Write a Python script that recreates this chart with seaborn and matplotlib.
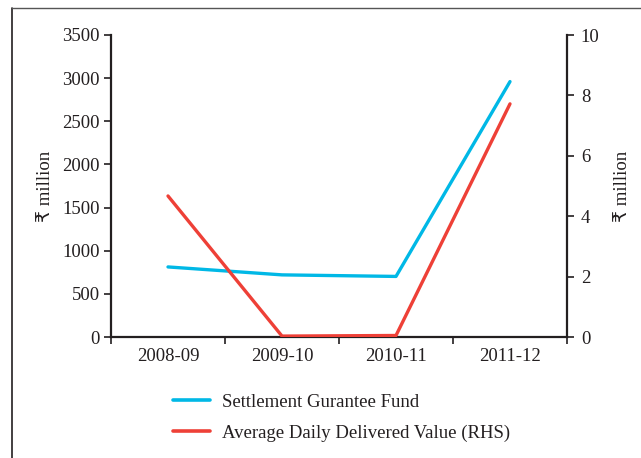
import numpy as np
import pandas as pd
import matplotlib
matplotlib.use("Agg")
import matplotlib.pyplot as plt
from matplotlib.lines import Line2D
import seaborn as sns

# Data
years = ["2008-09", "2009-10", "2010-11", "2011-12"]
settlement_fund = [812, 720, 702, 2960]          # ₹ million, left axis
avg_daily_delivered = [4.67, 0.03, 0.05, 7.72]   # ₹ million, right axis

left_ticks = [0, 500, 1000, 1500, 2000, 2500, 3000, 3500]
right_ticks = [0, 2, 4, 6, 8, 10]

BLUE = "#00b8e6"
RED = "#ee4037"
INK = "#231f20"

sns.set_theme(style="white")
plt.rcParams["font.family"] = ["Liberation Serif", "DejaVu Sans"]
plt.rcParams["text.color"] = INK
plt.rcParams["axes.labelcolor"] = INK
plt.rcParams["xtick.color"] = INK
plt.rcParams["ytick.color"] = INK

df = pd.DataFrame({
    "pos": np.arange(len(years)),
    "year": years,
    "fund": settlement_fund,
    "delivered": avg_daily_delivered,
})

fig = plt.figure(figsize=(6.41, 4.58), dpi=100)
ax = fig.add_axes([111 / 641, 121 / 458, 456 / 641, 302 / 458])
ax2 = ax.twinx()

sns.lineplot(data=df, x="pos", y="fund", ax=ax, color=BLUE, lw=2.4,
             sort=False, label="Settlement Gurantee Fund", legend=False)
sns.lineplot(data=df, x="pos", y="delivered", ax=ax2, color=RED, lw=2.4,
             sort=False, label="Average Daily Delivered Value (RHS)", legend=False)

fs = 13.5
ax.set_xlim(-0.5, len(years) - 0.5)
ax.set_ylim(0, 3500)
ax2.set_ylim(0, 10)
ax.set_yticks(left_ticks)
ax.set_yticklabels([str(t) for t in left_ticks], fontsize=fs)
ax2.set_yticks(right_ticks)
ax2.set_yticklabels([str(t) for t in right_ticks], fontsize=fs)

# category boundaries as tick marks, labels centred in each slot
ax.set_xticks(np.arange(-0.5, len(years), 1.0))
ax.set_xticklabels([])
ax.set_xticks(df["pos"], minor=True)
ax.set_xticklabels(years, minor=True, fontsize=fs)
ax.tick_params(axis="x", which="major", direction="out", length=5, width=1.2, color=INK, bottom=True)
ax.tick_params(axis="x", which="minor", length=0, pad=8)
ax.tick_params(axis="y", direction="out", length=5, width=1.2, color=INK, left=True, pad=3)
ax2.tick_params(axis="y", direction="out", length=5, width=1.2, color=INK, right=True, pad=5)

ax.set_xlabel("")
ax.set_ylabel("₹ million", fontsize=fs, labelpad=6)
ax2.set_ylabel("₹ million", fontsize=fs, labelpad=10)

for a in (ax, ax2):
    a.spines["top"].set_visible(False)
    for side in ("left", "right", "bottom"):
        a.spines[side].set_color(INK)
        a.spines[side].set_linewidth(1.6)
    a.grid(False)
ax.spines["right"].set_visible(False)
ax2.spines["left"].set_visible(False)
ax2.spines["bottom"].set_visible(False)

handles = [Line2D([], [], color=BLUE, lw=2.6), Line2D([], [], color=RED, lw=2.6)]
labels = ["Settlement Gurantee Fund", "Average Daily Delivered Value (RHS)"]
fig.legend(handles, labels, loc="upper left", bbox_to_anchor=(156 / 641, 1 - 377 / 458),
           frameon=False, fontsize=13.5, handlelength=2.0, handletextpad=0.64,
           labelspacing=0.72)

# outer frame (left and top edges)
fig.add_artist(Line2D([12 / 641, 12 / 641], [0, 1 - 8 / 458], transform=fig.transFigure,
                      color=INK, lw=1.2))
fig.add_artist(Line2D([12 / 641, 1], [1 - 8 / 458, 1 - 8 / 458], transform=fig.transFigure,
                      color="#555555", lw=1.0))

fig.savefig("out.png", dpi=100)
